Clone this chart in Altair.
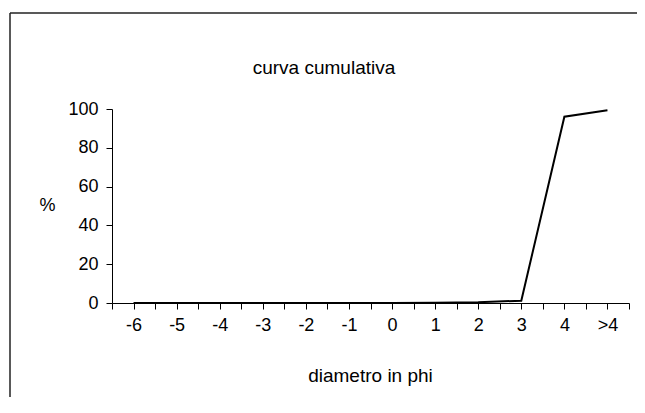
import altair as alt
import pandas as pd

categories = ["-6", "-5", "-4", "-3", "-2", "-1", "0", "1", "2", "3", "4", ">4"]
cumulative = [0, 0, 0, 0, 0, 0, 0, 0.1, 0.4, 1.2, 96, 99.3]
y_ticks = [0, 20, 40, 60, 80, 100]

positions = [-6 + i for i in range(len(categories))]
df = pd.DataFrame({"pos": positions, "cat": categories, "pct": cumulative})
x_tick_values = [-6.5 + 0.5 * k for k in range(25)]

FONT = "Liberation Sans"

line = alt.Chart(df).mark_line(color="black", strokeWidth=2).encode(
    x=alt.X(
        "pos:Q",
        scale=alt.Scale(domain=[-6.5, 5.5], nice=False, zero=False),
        axis=alt.Axis(
            values=x_tick_values,
            labelExpr="datum.value == 5 ? '\u00a0\u00a0\u00a0>4' : (floor(datum.value) == datum.value ? '' + datum.value : '')",
            labelOverlap=False,
            labelFlush=False,
            labelBound=False,
            grid=False,
            domainColor="black",
            tickColor="black",
            tickSize=6,
            labelPadding=7,
            labelColor="black",
            labelFont=FONT,
            labelFontSize=18,
            title="diametro in phi",
            titleFont=FONT,
            titleFontSize=19,
            titleFontWeight="normal",
            titleColor="black",
            titleX=258,
            titleY=72,
            titleAlign="center",
            titleBaseline="middle",
        ),
    ),
    y=alt.Y(
        "pct:Q",
        scale=alt.Scale(domain=[0, 100], nice=False),
        axis=alt.Axis(
            values=y_ticks,
            grid=False,
            domainColor="black",
            tickColor="black",
            tickSize=6,
            labelPadding=8,
            labelColor="black",
            labelFont=FONT,
            labelFontSize=18,
            title="%",
            titleAngle=0,
            titleFont=FONT,
            titleFontSize=18,
            titleFontWeight="normal",
            titleColor="black",
            titleX=-65,
            titleY=96,
            titleAlign="center",
            titleBaseline="middle",
        ),
    ),
)

frame_src = alt.Chart(pd.DataFrame({"k": [0]}))
top_border = frame_src.mark_rule(color="#222", strokeWidth=1.5).encode(
    x=alt.value(-102), x2=alt.value(540), y=alt.value(-96)
)
left_border = frame_src.mark_rule(color="#222", strokeWidth=1.5).encode(
    x=alt.value(-102), y=alt.value(-96), y2=alt.value(300)
)
title = frame_src.mark_text(
    text="curva cumulativa", font=FONT, fontSize=19, color="black",
    align="center", baseline="middle"
).encode(x=alt.value(212), y=alt.value(-41))

chart = (
    alt.layer(line, top_border, left_border, title)
    .properties(
        width=517,
        height=194,
        autosize=alt.AutoSizeParams(type="none"),
        padding={"left": 104, "top": 101, "right": 8, "bottom": 94},
        background="white",
    )
    .configure_view(strokeWidth=0)
)

chart.save("out.html", embed_options={"renderer": "svg", "actions": False})
